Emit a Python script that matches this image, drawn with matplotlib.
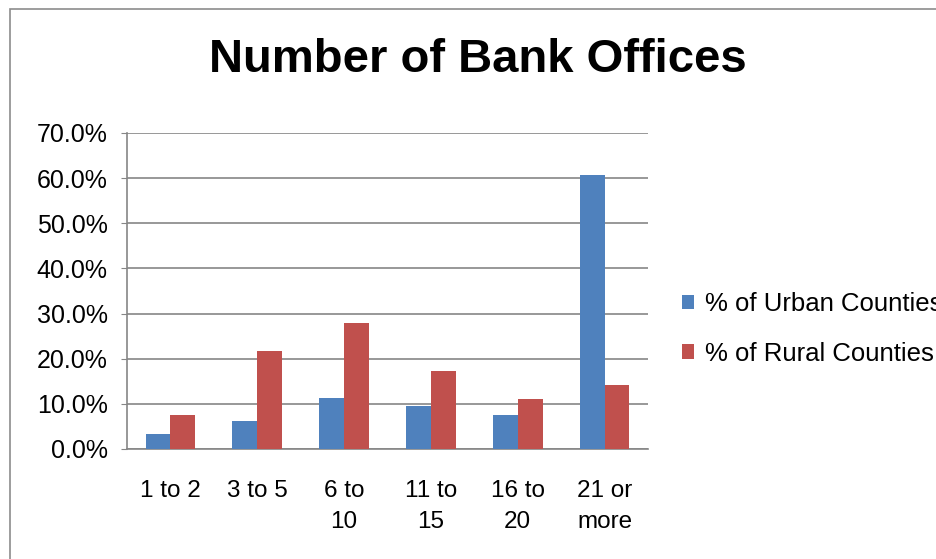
import numpy as np
import matplotlib
matplotlib.use("Agg")
from matplotlib import pyplot as plt
from matplotlib.patches import Rectangle

plt.rcParams['font.family'] = ['Liberation Sans', 'DejaVu Sans']

categories = ['1 to 2', '3 to 5', '6 to\n10', '11 to\n15', '16 to\n20', '21 or\nmore']
urban = [3.4, 6.1, 11.2, 9.6, 7.6, 60.7]
rural = [7.6, 21.6, 27.9, 17.2, 11.0, 14.1]

fig = plt.figure(figsize=(9.37, 5.59), dpi=100)

# outer chart border
fig.patches.append(Rectangle((10 / 937, -0.1), 1.2, 1 - 9 / 559 + 0.1,
                             transform=fig.transFigure, fill=False,
                             edgecolor='#8c8c8c', linewidth=1.2))

ax = fig.add_axes([127 / 937, 1 - 449 / 559, 521 / 937, 316 / 559])

x = np.arange(len(categories))
w = 1 / 3.5
ax.bar(x - w / 2, urban, w, color='#4F81BD', label='% of Urban Counties', zorder=3)
ax.bar(x + w / 2, rural, w, color='#C0504D', label='% of Rural Counties', zorder=3)

ax.set_xlim(-0.5, len(categories) - 0.5)
ax.set_ylim(0, 70)
ax.set_yticks(np.arange(0, 71, 10))
ax.set_yticklabels(['%.1f%%' % v for v in np.arange(0, 71, 10)], fontsize=18)
ax.set_xticks(x)
ax.set_xticklabels(categories, fontsize=17.5, linespacing=1.55)
ax.tick_params(axis='x', length=0, pad=22)
ax.tick_params(axis='y', length=4, color='#868686', pad=10)

ax.grid(axis='y', color='#868686', linewidth=1.2, zorder=0)
for s in ['top', 'right']:
    ax.spines[s].set_visible(False)
for s in ['left', 'bottom']:
    ax.spines[s].set_color('#868686')
    ax.spines[s].set_linewidth(1.2)

fig.text(478 / 937, 1 - 60 / 559, 'Number of Bank Offices', fontsize=34,
         fontweight='bold', ha='center', va='center')

leg = ax.legend(loc='center left', bbox_to_anchor=(1.02, 0.38), frameon=False,
                fontsize=18.5, handlelength=0.5, handleheight=0.5,
                handletextpad=0.4, labelspacing=1.0)

fig.savefig('out.png', dpi=100)
